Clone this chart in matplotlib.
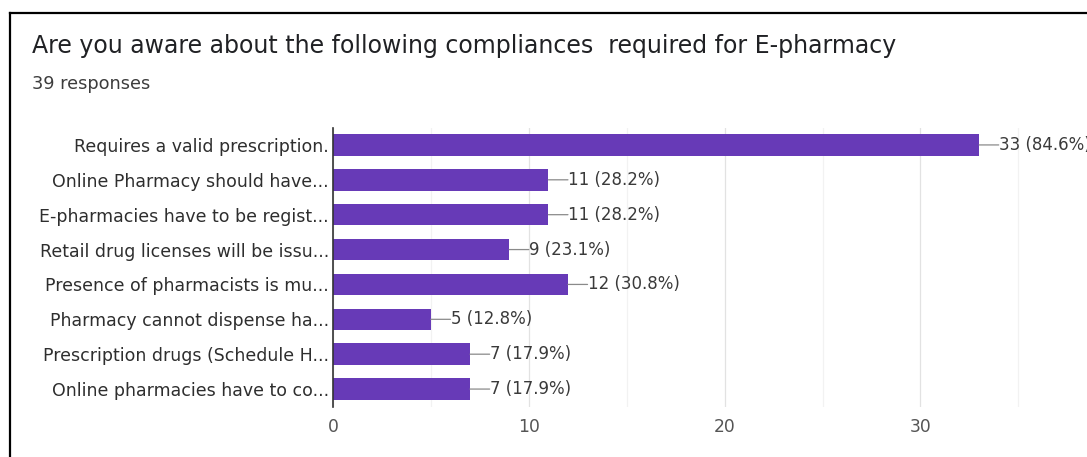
import matplotlib
matplotlib.use("Agg")
import matplotlib.pyplot as plt
from matplotlib.lines import Line2D

title = "Are you aware about the following compliances  required for E-pharmacy"
subtitle = "39 responses"
categories = [
    "Requires a valid prescription.",
    "Online Pharmacy should have...",
    "E-pharmacies have to be regist...",
    "Retail drug licenses will be issu...",
    "Presence of pharmacists is mu...",
    "Pharmacy cannot dispense ha...",
    "Prescription drugs (Schedule H...",
    "Online pharmacies have to co...",
]
counts = [33, 11, 11, 9, 12, 5, 7, 7]
total_responses = 39
xticks = [0, 10, 20, 30]
minor_ticks = [5, 15, 25, 35]

W, H = 1087, 457
plt.rcParams['font.family'] = ['DejaVu Sans']
fig = plt.figure(figsize=(W / 100, H / 100), dpi=100)

# frame of the screenshot
fig.add_artist(Line2D([10 / W, 10 / W], [0, 1 - 13 / H], transform=fig.transFigure, color='black', lw=1.6))
fig.add_artist(Line2D([10 / W, 1.0], [1 - 13 / H, 1 - 13 / H], transform=fig.transFigure, color='black', lw=1.6))

fig.text(32 / W, 1 - 46 / H, title, fontsize=17.0, color='#202124', va='center', ha='left')
fig.text(32 / W, 1 - 84 / H, subtitle, fontsize=12.8, color='#3c3c3c', va='center', ha='left')

left, right = 333 / W, 1.0
top, bottom = 1 - 127.5 / H, 1 - 406.5 / H
ax = fig.add_axes([left, bottom, right - left, top - bottom])

y = list(range(len(categories)))
ax.barh(y, counts, height=0.62, color='#673ab7', zorder=3)
ax.set_ylim(len(categories) - 0.5, -0.5)
ax.set_xlim(0, (W - 333) / 19.58)

ax.set_yticks(y)
ax.set_yticklabels(categories, fontsize=12.5, color='#2e2e2e')
ax.set_xticks(xticks)
ax.set_xticklabels([str(t) for t in xticks], fontsize=12.3, color='#555555')
ax.set_xticks(minor_ticks, minor=True)
ax.tick_params(axis='both', length=0, which='both')
ax.tick_params(axis='x', pad=8)
ax.tick_params(axis='y', pad=3)

ax.grid(axis='x', which='major', color='#e2e2e2', lw=0.9, zorder=0)
ax.grid(axis='x', which='minor', color='#f2f2f2', lw=0.9, zorder=0)
for s in ['top', 'right', 'bottom']:
    ax.spines[s].set_visible(False)
ax.spines['left'].set_color('#333333')
ax.spines['left'].set_linewidth(1.2)
ax.spines['left'].set_zorder(4)

for yi, c in zip(y, counts):
    pct = c / total_responses * 100
    ax.annotate('', xy=(c, yi), xytext=(c + 1.0, yi),
                arrowprops=dict(arrowstyle='-', color='#8a8a8a', lw=0.9, shrinkA=0, shrinkB=0),
                annotation_clip=False)
    ax.text(c + 1.02, yi, f"{c} ({pct:.1f}%)", fontsize=12, color='#3a3a3a',
            va='center', ha='left', clip_on=False)

fig.savefig('out.png', dpi=100)
